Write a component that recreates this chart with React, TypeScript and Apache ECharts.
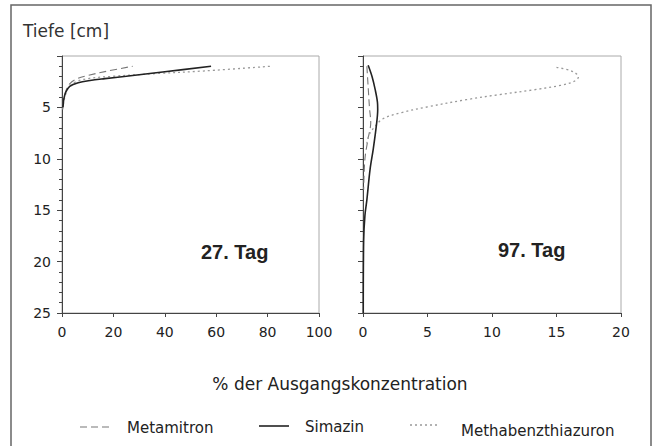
import React, { useEffect, useRef } from "react";
import * as echarts from "echarts";

// Depth profiles: [percent of initial concentration, depth cm]
const day27Metamitron: number[][] = [[0.3, 4.8], [0.8, 4.0], [1.5, 3.4], [3, 2.7], [6, 2.2], [10, 1.9], [18, 1.45], [27.5, 1.0]];
const day27Simazin: number[][] = [[0.4, 5.0], [0.7, 4.2], [1.5, 3.5], [3, 2.95], [6.3, 2.6], [10.9, 2.38], [16.7, 2.2], [25, 1.97], [40, 1.53], [58, 1.0]];
const day27Methabenz: number[][] = [[0.3, 5.2], [0.5, 4.8], [1.2, 3.9], [2.5, 3.1], [5, 2.55], [10, 2.2], [18.7, 1.99], [36, 1.72], [55.6, 1.45], [81, 1.0]];

const day97Metamitron: number[][] = [[0.3, 1.0], [0.4, 3.0], [0.5, 5.0], [0.6, 6.5], [0.4, 8.0], [0.15, 10], [0.05, 13]];
const day97Simazin: number[][] = [[0.4, 0.9], [0.7, 2.0], [0.95, 3.3], [1.12, 4.5], [1.14, 5.2], [1.06, 6.5], [0.8, 9], [0.55, 11], [0.3, 14], [0.15, 15.5], [0.05, 18], [0.02, 25]];
const day97Methabenz: number[][] = [[15.0, 1.1], [16.05, 1.4], [16.56, 1.75], [16.7, 2.05], [16.3, 2.5], [15.3, 2.86], [13.2, 3.3], [10.6, 3.75], [8.0, 4.25], [5.0, 4.95], [3.0, 5.5], [1.55, 6.1], [1.0, 6.75], [0.5, 7.6], [0.3, 8.5]];

const leftXTicks = [0, 20, 40, 60, 80, 100];
const rightXTicks = [0, 5, 10, 15, 20];
const depthTicks = [0, 5, 10, 15, 20, 25];

const legendNames = ["Metamitron", "Simazin", "Methabenzthiazuron"];
const panelTitles = ["27. Tag", "97. Tag"];

const FONT = "DejaVu Sans";
const TITLE_FONT = "Liberation Sans";

export default function App() {
  const ref = useRef<HTMLDivElement>(null);
  useEffect(() => {
    if (!ref.current) return;
    const chart = echarts.init(ref.current, undefined, { renderer: "svg" });
    const axisColor = "#444";
    const styles = {
      Metamitron: { color: "#777", type: [7, 4] as any, width: 1.1 },
      Simazin: { color: "#222", type: "solid" as any, width: 1.6 },
      Methabenzthiazuron: { color: "#999", type: [2, 3] as any, width: 1.3 },
    } as Record<string, any>;

    const mkX = (idx: number, max: number, interval: number) => ({
      type: "value",
      gridIndex: idx,
      min: 0,
      max,
      interval,
      axisLine: { show: true, onZero: false, lineStyle: { color: axisColor, width: 1 } },
      axisTick: { show: true, length: 4, lineStyle: { color: axisColor } },
      axisLabel: { show: true, color: "#222", fontFamily: FONT, fontSize: 14, margin: 12 },
      splitLine: { show: false },
    });
    const mkY = (idx: number, labels: boolean) => ({
      type: "value",
      gridIndex: idx,
      inverse: true,
      min: depthTicks[0],
      max: depthTicks[depthTicks.length - 1],
      interval: 5,
      axisLine: { show: true, onZero: false, lineStyle: { color: axisColor, width: 1 } },
      axisTick: { show: true, length: 5, lineStyle: { color: axisColor } },
      minorTick: { show: true, splitNumber: 5, length: 3, lineStyle: { color: axisColor } },
      axisLabel: {
        show: labels,
        color: "#222",
        fontFamily: FONT,
        fontSize: 14,
        margin: 11,
        formatter: (v: number) => (v === 0 ? "" : String(v)),
      },
      splitLine: { show: false },
    });

    const mkSeries = (name: string, data: number[][], idx: number) => ({
      name,
      type: "line",
      xAxisIndex: idx,
      yAxisIndex: idx,
      data,
      smooth: 0.35,
      showSymbol: false,
      symbol: "none",
      lineStyle: styles[name],
      z: name === "Simazin" ? 3 : 2,
    });

    const legendLine = (x: number, y: number, name: string) => ({
      type: "line",
      shape: { x1: x, y1: y, x2: x + 30, y2: y },
      style: { stroke: styles[name].color, lineWidth: styles[name].width, lineDash: styles[name].type === "solid" ? null : styles[name].type },
    });
    const legendText = (x: number, y: number, text: string) => ({
      type: "text",
      x,
      y,
      style: { text, fill: "#222", font: `15px "${FONT}"`, textVerticalAlign: "middle" },
    });

    chart.setOption({
      animation: false,
      backgroundColor: "#fff",
      grid: [
        { left: 62, top: 56, width: 257, height: 257, show: true, borderColor: "#aaa", borderWidth: 1, backgroundColor: "transparent" },
        { left: 363, top: 56, width: 258, height: 257, show: true, borderColor: "#aaa", borderWidth: 1, backgroundColor: "transparent" },
      ],
      xAxis: [mkX(0, leftXTicks[leftXTicks.length - 1], 20), mkX(1, rightXTicks[rightXTicks.length - 1], 5)],
      yAxis: [mkY(0, true), mkY(1, false)],
      series: [
        mkSeries(legendNames[0], day27Metamitron, 0),
        mkSeries(legendNames[1], day27Simazin, 0),
        mkSeries(legendNames[2], day27Methabenz, 0),
        mkSeries(legendNames[0], day97Metamitron, 1),
        mkSeries(legendNames[1], day97Simazin, 1),
        mkSeries(legendNames[2], day97Methabenz, 1),
      ],
      graphic: [
        {
          type: "rect",
          shape: { x: 11, y: 5, width: 640, height: 450 },
          style: { fill: "none", stroke: "#666", lineWidth: 1.5 },
          silent: true,
        },
        {
          type: "text",
          x: 23,
          y: 31,
          style: { text: "Tiefe [cm]", fill: "#333", font: `17px "${FONT}"`, textVerticalAlign: "middle" },
        },
        {
          type: "text",
          x: 201,
          y: 252,
          style: { text: panelTitles[0], fill: "#222", font: `bold 20px "${TITLE_FONT}"`, textVerticalAlign: "middle" },
        },
        {
          type: "text",
          x: 498,
          y: 250,
          style: { text: panelTitles[1], fill: "#222", font: `bold 20px "${TITLE_FONT}"`, textVerticalAlign: "middle" },
        },
        {
          type: "text",
          x: 340,
          y: 384,
          style: { text: "% der Ausgangskonzentration", fill: "#222", font: `17px "${FONT}"`, textAlign: "center", textVerticalAlign: "middle" },
        },
        legendLine(80, 427, legendNames[0]),
        legendText(127, 428, legendNames[0]),
        legendLine(259, 426, legendNames[1]),
        legendText(305, 427, legendNames[1]),
        legendLine(410, 425, legendNames[2]),
        legendText(461, 431, legendNames[2]),
      ],
    });
    return () => chart.dispose();
  }, []);
  return <div ref={ref} style={{ position: "fixed", left: 0, top: 0, width: 661, height: 446 }} />;
}
